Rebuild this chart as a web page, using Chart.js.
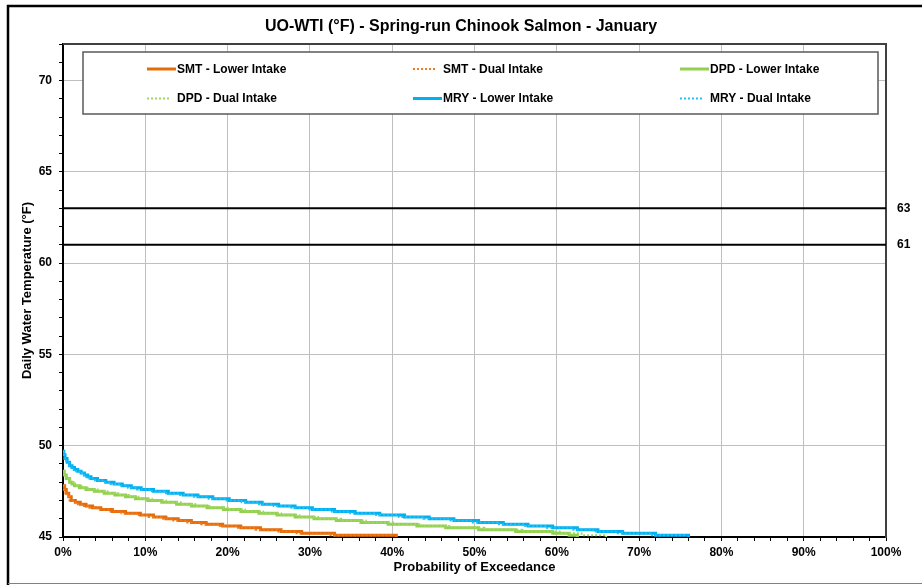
<!DOCTYPE html>
<html>
<head>
<meta charset="utf-8">
<title>UO-WTI Spring-run Chinook Salmon - January</title>
<script src="https://cdn.jsdelivr.net/npm/chart.js@4.4.1/dist/chart.umd.min.js"></script>
<style>
  html, body { margin: 0; padding: 0; background: #fff; }
  #wrap { width: 922px; height: 585px; position: relative; }
</style>
</head>
<body>
<div id="wrap"><canvas id="chartCanvas" width="922" height="585"></canvas></div>
<script>
  // Exceedance curves, stored as step breakpoints: probability (%) -> temperature (°F)
  const smtTemps  = [47.8, 47.6, 47.4, 47.2, 47.0, 46.9, 46.8, 46.7, 46.6, 46.5, 46.4, 46.3, 46.2, 46.1, 46.0, 45.9, 45.8, 45.7, 45.6, 45.5, 45.4, 45.3, 45.2, 45.1, 44.8, 44.5, 44.5];
  const smtLowerX = [0, 0.2, 0.4, 0.7, 1.0, 1.5, 2.1, 2.8, 3.6, 4.6, 6.0, 7.6, 9.4, 11.0, 12.5, 14.0, 15.6, 17.4, 19.4, 21.6, 24.0, 26.5, 29.0, 33.0, 40.5, 52, 100];
  const smtDualX  = [0, 0.15, 0.3, 0.55, 0.8, 1.2, 1.8, 2.4, 3.2, 4.2, 5.5, 7.1, 8.9, 10.4, 12.0, 13.4, 15.1, 16.8, 18.9, 21.0, 23.4, 26.0, 28.4, 32.5, 40.0, 52, 100];

  const dpdTemps  = [48.6, 48.4, 48.2, 48.0, 47.9, 47.8, 47.7, 47.6, 47.5, 47.4, 47.3, 47.2, 47.1, 47.0, 46.9, 46.8, 46.7, 46.6, 46.5, 46.4, 46.3, 46.2, 46.1, 46.0, 45.9, 45.8, 45.7, 45.6, 45.5, 45.4, 45.3, 45.2, 45.1, 44.8, 44.5, 44.5];
  const dpdLowerX = [0, 0.15, 0.4, 0.8, 1.1, 1.4, 2.0, 2.8, 3.8, 5.0, 6.3, 7.6, 8.8, 10.3, 12.0, 13.8, 15.6, 17.5, 19.5, 21.6, 23.8, 26.0, 28.2, 30.5, 33.2, 36.2, 39.5, 43.0, 46.5, 50.5, 55.0, 59.5, 61.5, 62.5, 75, 100];
  const dpdDualX  = [0, 0.2, 0.5, 0.9, 1.3, 1.7, 2.4, 3.2, 4.2, 5.4, 6.7, 8.0, 9.3, 10.8, 12.5, 14.3, 16.1, 18.0, 20.0, 22.1, 24.3, 26.5, 28.7, 31.0, 33.8, 36.8, 40.1, 43.6, 47.2, 51.2, 55.8, 60.5, 63.0, 66.0, 75, 100];

  const mryTemps  = [49.7, 49.5, 49.3, 49.1, 48.9, 48.8, 48.7, 48.6, 48.5, 48.4, 48.3, 48.2, 48.1, 48.0, 47.9, 47.8, 47.7, 47.6, 47.5, 47.4, 47.3, 47.2, 47.1, 47.0, 46.9, 46.8, 46.7, 46.6, 46.5, 46.4, 46.3, 46.2, 46.1, 46.0, 45.9, 45.8, 45.7, 45.6, 45.5, 45.4, 45.3, 45.2, 45.1, 44.8, 44.5, 44.5];
  const mryLowerX = [0, 0.1, 0.25, 0.5, 0.8, 1.1, 1.4, 1.8, 2.2, 2.6, 3.0, 3.4, 4.2, 5.2, 6.2, 7.2, 8.3, 9.5, 11.0, 12.8, 14.6, 16.4, 18.2, 20.2, 22.2, 24.2, 26.2, 28.2, 30.3, 33.0, 35.5, 38.5, 41.5, 44.5, 47.5, 50.5, 53.5, 56.5, 59.5, 62.5, 65.0, 68.0, 72.0, 76.0, 88, 100];
  const mryDualX  = [0, 0.08, 0.2, 0.4, 0.7, 1.0, 1.3, 1.6, 2.0, 2.4, 2.8, 3.2, 3.9, 4.8, 5.8, 6.8, 7.9, 9.0, 10.5, 12.3, 14.1, 15.9, 17.7, 19.7, 21.7, 23.6, 25.6, 27.6, 29.7, 32.4, 34.9, 37.8, 40.8, 43.8, 46.8, 49.8, 52.8, 55.9, 58.8, 61.9, 64.4, 67.4, 71.4, 75.5, 88, 100];

  const thresholds = [63, 61];
  const yLabels = [45, 50, 55, 60, 65, 70];
  const xLabels = [0, 10, 20, 30, 40, 50, 60, 70, 80, 90, 100];

  const FONT = '"Liberation Sans", Arial, Helvetica, sans-serif';

  function toPoints(xs, ys) {
    return xs.map((x, i) => ({ x: x, y: ys[i] }));
  }

  // each value holds from its own x until the next breakpoint
  function curve(label, xs, ys, color, dotted) {
    return {
      label: label,
      data: toPoints(xs, ys),
      borderColor: color,
      backgroundColor: color,
      borderWidth: dotted ? 2 : 3,
      borderDash: dotted ? [2, 2] : [],
      stepped: 'before',
      pointRadius: 0,
      fill: false,
      clip: 0,
      order: dotted ? 1 : 2,
      isCurve: true
    };
  }

  const curves = [
    curve('SMT - Lower Intake', smtLowerX, smtTemps, '#E46C0A', false),
    curve('SMT - Dual Intake', smtDualX, smtTemps, '#F07A1E', true),
    curve('DPD - Lower Intake', dpdLowerX, dpdTemps, '#92D050', false),
    curve('DPD - Dual Intake', dpdDualX, dpdTemps, '#9ED863', true),
    curve('MRY - Lower Intake', mryLowerX, mryTemps, '#00B0F0', false),
    curve('MRY - Dual Intake', mryDualX, mryTemps, '#22C0F6', true)
  ];

  const limitLines = thresholds.map(t => ({
    label: String(t),
    data: [{ x: 0, y: t }, { x: 100, y: t }],
    borderColor: '#000',
    borderWidth: 2,
    pointRadius: 0,
    fill: false,
    order: 0
  }));

  // Frame, plot border and the boxed legend drawn by hand
  const decorations = {
    id: 'decorations',
    beforeDraw(chart) {
      const ctx = chart.ctx;
      ctx.save();
      ctx.fillStyle = '#fff';
      ctx.fillRect(0, 0, chart.width, chart.height);
      ctx.strokeStyle = '#000';
      ctx.lineWidth = 2.5;
      ctx.beginPath();
      ctx.moveTo(8, chart.height);
      ctx.lineTo(8, 6);
      ctx.lineTo(chart.width, 6);
      ctx.stroke();
      ctx.strokeStyle = '#808080';
      ctx.lineWidth = 1;
      ctx.beginPath();
      ctx.moveTo(8, 583.5);
      ctx.lineTo(chart.width, 583.5);
      ctx.stroke();
      ctx.restore();
    },
    afterDraw(chart) {
      const ctx = chart.ctx;
      const a = chart.chartArea;
      ctx.save();
      ctx.strokeStyle = '#404040';
      ctx.lineWidth = 2;
      ctx.beginPath();
      ctx.moveTo(a.left, a.top);
      ctx.lineTo(a.right, a.top);
      ctx.stroke();

      // legend box
      ctx.fillStyle = '#fff';
      ctx.fillRect(83, 52, 795, 62);
      ctx.strokeStyle = '#595959';
      ctx.lineWidth = 1.5;
      ctx.strokeRect(83, 52, 795, 62);

      const colX = [177, 443, 710];
      const rowY = [69, 98.5];
      ctx.font = 'bold 12px ' + FONT;
      ctx.textBaseline = 'middle';
      ctx.textAlign = 'left';
      chart.data.datasets.filter(d => d.isCurve).forEach((d, i) => {
        const tx = colX[i % 3];
        const ty = rowY[Math.floor(i / 3)];
        const dotted = d.borderDash.length > 0;
        ctx.strokeStyle = d.borderColor;
        ctx.lineWidth = dotted ? 2 : 3;
        ctx.setLineDash(dotted ? [2, 2] : []);
        ctx.beginPath();
        ctx.moveTo(tx - 30, ty);
        ctx.lineTo(dotted ? tx - 8 : tx - 1, ty);
        ctx.stroke();
        ctx.setLineDash([]);
        ctx.fillStyle = '#000';
        ctx.fillText(d.label, tx, ty + 0.5);
      });
      ctx.restore();
    }
  };

  const ctx = document.getElementById('chartCanvas').getContext('2d');
  const chart = new Chart(ctx, {
    type: 'line',
    data: { datasets: curves.concat(limitLines) },
    options: {
      responsive: false,
      animation: false,
      events: [],
      layout: { padding: 0 },
      plugins: {
        legend: { display: false },
        tooltip: { enabled: false },
        title: {
          display: true,
          text: 'UO-WTI (°F) - Spring-run Chinook Salmon - January',
          color: '#000',
          font: { family: FONT, size: 16, weight: 'bold' },
          padding: { top: 17.4, bottom: 7.4 }
        }
      },
      scales: {
        x: {
          type: 'linear',
          min: 0,
          max: 100,
          afterFit: s => { s.height = 48; },
          ticks: {
            stepSize: 2,
            autoSkip: false,
            maxRotation: 0,
            padding: 4,
            color: '#000',
            font: { family: FONT, size: 12, weight: 'bold' },
            callback: v => xLabels.includes(v) ? v + '%' : ''
          },
          grid: {
            color: c => (c.tick && c.tick.value % 10 === 0 && c.tick.value > 0 && c.tick.value < 100) ? '#bfbfbf' : 'rgba(0,0,0,0)',
            tickColor: '#000',
            tickLength: 4,
            lineWidth: 1
          },
          border: { color: '#000', width: 2 },
          title: {
            display: true,
            text: 'Probability of Exceedance',
            color: '#000',
            font: { family: FONT, size: 13, weight: 'bold' },
            padding: { top: 0, bottom: 10.2 }
          }
        },
        y: {
          type: 'linear',
          position: 'left',
          min: 45,
          max: 72,
          afterFit: s => { s.width = 63; },
          ticks: {
            stepSize: 1,
            autoSkip: false,
            padding: 7,
            color: '#000',
            font: { family: FONT, size: 12, weight: 'bold' },
            callback: v => yLabels.includes(v) ? String(v) : ''
          },
          grid: {
            color: c => (c.tick && c.tick.value % 5 === 0 && c.tick.value > 45) ? '#bfbfbf' : 'rgba(0,0,0,0)',
            tickColor: '#000',
            tickLength: 4,
            lineWidth: 1
          },
          border: { color: '#000', width: 2 },
          title: {
            display: true,
            text: 'Daily Water Temperature (°F)',
            color: '#000',
            font: { family: FONT, size: 13, weight: 'bold' },
            padding: { top: 19.2, bottom: 0 }
          }
        },
        y2: {
          type: 'linear',
          position: 'right',
          min: 45,
          max: 72,
          afterFit: s => { s.width = 36; },
          afterBuildTicks: s => { s.ticks = thresholds.map(v => ({ value: v })); },
          ticks: {
            padding: 11,
            color: '#000',
            font: { family: FONT, size: 12, weight: 'bold' }
          },
          grid: { display: false, drawTicks: false },
          border: { color: '#404040', width: 2 }
        }
      }
    },
    plugins: [decorations]
  });
</script>
</body>
</html>
